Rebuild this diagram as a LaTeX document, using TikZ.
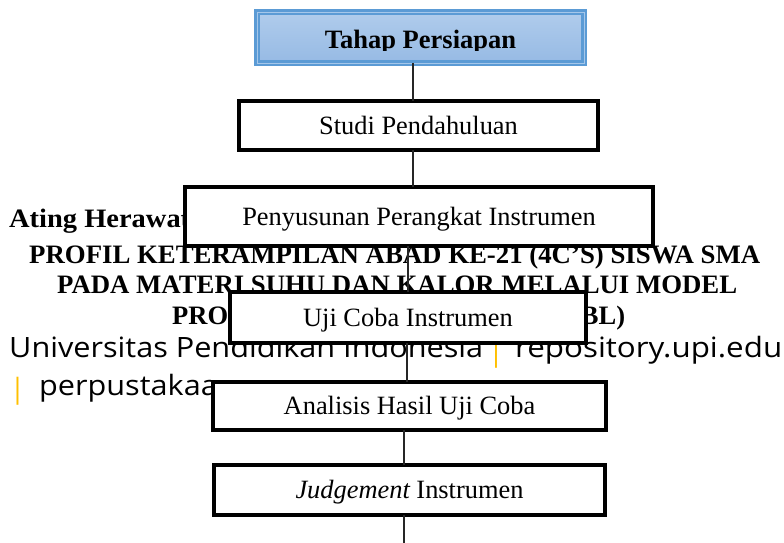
\documentclass[tikz,border=0pt]{standalone}
\usepackage{fontspec}
\setmainfont{Liberation Serif}
\newfontfamily\footfont{Open Sans}
\usetikzlibrary{calc}
\definecolor{bluebord}{RGB}{91,155,213}
\definecolor{blueedge}{RGB}{165,199,234}
\definecolor{bluetop}{RGB}{176,204,236}
\definecolor{bluebot}{RGB}{150,186,228}
\definecolor{upiorange}{RGB}{255,192,0}
\newcommand\boxfont{\fontsize{26.4pt}{30pt}\selectfont}
\newcommand\footsize{\fontsize{28pt}{32pt}\selectfont}
\newsavebox\measbox
\newcommand\fx{1}
\AtBeginDocument{%
  \sbox\measbox{\footsize\footfont Universitas Pendidikan Indonesia}%
  \pgfmathsetmacro\fx{474/\wd\measbox}%
}
\tikzset{
  stepbox/.style={draw=black, line width=4pt, fill=white, inner sep=0pt,
    font=\boxfont, text height=17.5pt, text depth=0pt},
  conn/.style={draw=black!85, line width=1.3pt},
  bgserif/.style={anchor=base west, inner sep=0pt,
    font=\fontsize{26.6pt}{30pt}\selectfont\bfseries},
  bgsans/.style={anchor=base west, inner sep=0pt,
    font=\footsize\footfont},
  bar/.style={anchor=base, inner sep=0pt, text=upiorange,
    font=\footsize\footfont},
}
\begin{document}
\begin{tikzpicture}[x=1pt,y=-1pt]
\useasboundingbox (0,0) rectangle (784,543);
\fill[white] (0,0) rectangle (784,543);

% background (watermark) text
\node[bgserif] (ating) at (9,227) {\scalebox{1.07}[1]{Ating Herawati}};
\node[bgserif] (prof1) at (29,263) {\resizebox{731pt}{\height}{PROFIL KETERAMPILAN ABAD KE-21 (4C’S) SISWA SMA}};
\node[bgserif] (prof2) at (57,293) {\resizebox{680pt}{\height}{PADA MATERI SUHU DAN KALOR MELALUI MODEL}};
\node[bgserif] (prof3) at (172,324) {\resizebox{453pt}{\height}{PROJECT BASED LEARNING (PjBL)}};
\node[bgsans] (upi1) at (9,357) {\scalebox{\fx}[1]{Universitas Pendidikan Indonesia}};
\node[bar] (bar1) at (496,361) {|};
\node[bgsans] (upi2) at (515,357) {\resizebox{267pt}{\height}{repository.upi.edu}};
\node[bar] (bar2) at (17.5,398) {|};
\node[bgsans] (upi3) at (39,395) {\scalebox{\fx}[1]{perpustakaan.upi.edu}};

% connector x positions
\coordinate (x1) at (413,0);
\coordinate (x2) at (413,0);
\coordinate (x3) at (408,0);
\coordinate (x4) at (407,0);
\coordinate (x5) at (404,0);
\coordinate (bend) at (404,543);

% box centres
\path (420.5,37.5) coordinate (p1) (418.5,125.5) coordinate (p2)
      (419,216.5) coordinate (p3) (408,317.5) coordinate (p4)
      (409.5,406) coordinate (p5) (409.5,490) coordinate (p6);

% white margin of the fifth box's text area
\fill[white] (211,371) rectangle (608,382);

% boxes
\node[draw=bluebord, line width=6pt, top color=bluetop, bottom color=bluebot,
      minimum width=327pt, minimum height=51pt, inner sep=0pt] (b1) at (p1) {};
\node[stepbox, minimum width=359pt, minimum height=49pt] (b2) at (p2) {Studi Pendahuluan};
\node[stepbox, minimum width=468pt, minimum height=59pt] (b3) at (p3) {Penyusunan Perangkat Instrumen};
\node[stepbox, minimum width=356pt, minimum height=51pt] (b4) at (p4) {Uji Coba Instrumen};
\node[stepbox, minimum width=393pt, minimum height=48pt] (b5) at (p5) {Analisis Hasil Uji Coba};
\node[stepbox, minimum width=391pt, minimum height=50pt] (b6) at (p6) {{\itshape Judgement} Instrumen};

\draw[blueedge, line width=0.8pt] ($(b1.north west)+(3,3)$) rectangle ($(b1.south east)+(-3,-3)$);
\begin{scope}
  \clip (254,9) rectangle (587,50.5);
  \node[anchor=base, inner sep=0pt, font=\fontsize{26.5pt}{30pt}\selectfont\bfseries] (t1) at (420.5,48.5) {Tahap Persiapan};
\end{scope}

% connectors
\draw[conn] ([yshift=3pt]b1.south -| x1) -- ([yshift=-2pt]b2.north -| x1);
\draw[conn] ([yshift=2pt]b2.south -| x2) -- ([yshift=-2pt]b3.north -| x2);
\draw[conn] ([yshift=2pt]b3.south -| x3) -- ([yshift=-2pt]b4.north -| x3);
\draw[conn] ([yshift=2pt]b4.south -| x4) -- ([yshift=-2pt]b5.north -| x4);
\draw[conn] ([yshift=2pt]b5.south -| x5) -- ([yshift=-2pt]b6.north -| x5);
\draw[conn] ([yshift=2pt]b6.south -| bend) -- (bend);
\end{tikzpicture}
\end{document}
